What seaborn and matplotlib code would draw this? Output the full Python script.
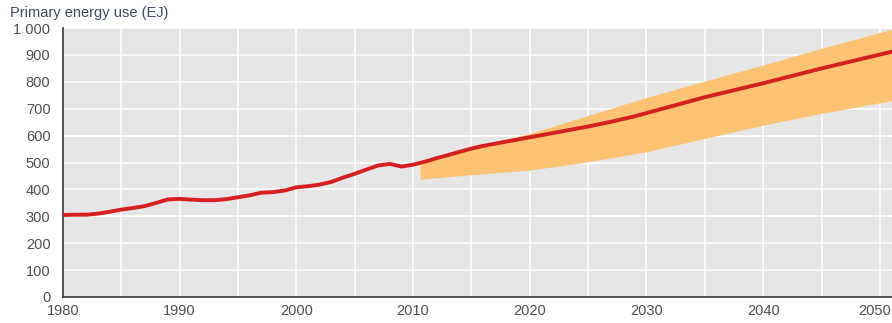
import numpy as np
import pandas as pd
import matplotlib
matplotlib.use('Agg')
import matplotlib.pyplot as plt
import matplotlib.transforms as mtransforms
import seaborn as sns

# historical + projected primary energy use (EJ)
years = list(range(1980, 2031)) + [2035, 2040, 2045, 2051]
energy = [305, 306, 306, 310, 317, 325, 331, 338, 350, 363,
          365, 362, 360, 360, 364, 371, 378, 388, 390, 396,
          408, 412, 418, 428, 444, 458, 474, 489, 495, 485,
          492, 503, 516, 528, 540, 552, 562, 570, 578, 586,
          594, 602, 610, 618, 626, 634, 643, 652, 662, 672,
          684, 743, 795, 850, 912]

# projection range
band_years = [2010.6, 2015, 2020, 2025, 2030, 2035, 2040, 2045, 2051]
band_low = [438, 455, 472, 503, 540, 590, 639, 683, 730]
band_high = [500, 556, 608, 675, 742, 803, 863, 925, 995]

sns.set_style('darkgrid', {'axes.facecolor': '#e6e6e6', 'grid.color': 'white'})
plt.rcParams['font.family'] = ['Liberation Sans', 'DejaVu Sans']

fig, ax = plt.subplots(figsize=(8.92, 3.23), dpi=100)
fig.subplots_adjust(left=0.0706, right=0.9995, bottom=0.0805, top=0.913)

ax.fill_between(band_years, band_low, band_high, color='#fcc372', lw=0, zorder=2)
df = pd.DataFrame({'year': years, 'energy': energy})
sns.lineplot(data=df, x='year', y='energy', color='#d6201f', lw=2.8, ax=ax, zorder=3)

ax.set_xlim(1980, 2051)
ax.set_ylim(0, 1000)
ax.set_xticks(range(1980, 2051, 5))
ax.set_xticklabels([str(y) if y % 10 == 0 else '' for y in range(1980, 2051, 5)])
ax.set_yticks(range(0, 1001, 100))
ax.set_yticklabels([f'{v:,}'.replace(',', ' ') for v in range(0, 1001, 100)])
ax.grid(True, color='white', lw=1.2)
ax.set_xlabel('')
ax.set_ylabel('')

for s in ['top', 'right']:
    ax.spines[s].set_visible(False)
for s in ['left', 'bottom']:
    ax.spines[s].set_visible(True)
    ax.spines[s].set_color('#444444')
    ax.spines[s].set_linewidth(1.3)

ax.tick_params(axis='both', direction='in', length=5, width=1.2, color='#444444',
               labelsize=10.5, labelcolor='#4f4f4f')
ax.tick_params(axis='x', pad=5)
ax.tick_params(axis='y', pad=9)

# last label sits at the right edge, nudge it left so it stays inside
last = ax.get_xticklabels()[-1]
last.set_transform(last.get_transform() + mtransforms.ScaledTranslation(-5 / 100, 0, fig.dpi_scale_trans))

fig.text(0.011, 0.96, 'Primary energy use (EJ)', fontsize=10.5, color='#3d4a63', va='center')

fig.savefig('out.png', dpi=100)
